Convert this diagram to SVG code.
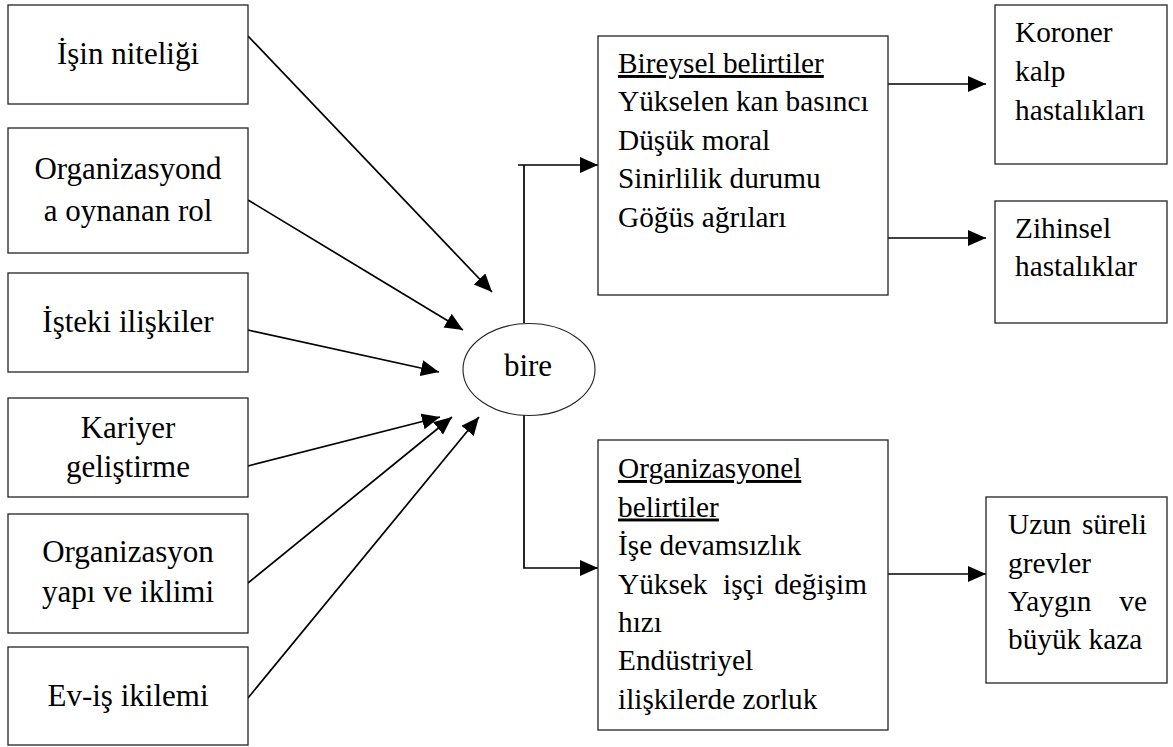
<svg xmlns="http://www.w3.org/2000/svg" width="1173" height="747" viewBox="0 0 1173 747" font-family="Liberation Serif, Times New Roman, serif">
<defs>
<marker id="arr" markerUnits="userSpaceOnUse" markerWidth="19" markerHeight="17" refX="18" refY="8" orient="auto">
<path d="M0,0 L18,8 L0,16 z" fill="#000"/>
</marker>
<style>
.box{fill:#fff;stroke:#222;stroke-width:1.3}
.lt{font-size:31px;fill:#000;text-anchor:middle}
.rt{font-size:29.3px;fill:#000}
.con{fill:none;stroke:#000;stroke-width:1.7}
.u{text-decoration:underline}
</style>
</defs>
<rect width="1173" height="747" fill="#fff"/>

<g id="connectors">
<line class="con" x1="248" y1="36" x2="492" y2="292" marker-end="url(#arr)"/>
<line class="con" x1="248" y1="200" x2="463" y2="330" marker-end="url(#arr)"/>
<line class="con" x1="248" y1="330" x2="439" y2="372" marker-end="url(#arr)"/>
<line class="con" x1="248" y1="466" x2="440" y2="417" marker-end="url(#arr)"/>
<line class="con" x1="248" y1="583" x2="452" y2="417" marker-end="url(#arr)"/>
<line class="con" x1="248" y1="698" x2="479" y2="417" marker-end="url(#arr)"/>
<path class="con" d="M524,323 V165"/>
<path class="con" d="M518,165 H598" marker-end="url(#arr)"/>
<path class="con" d="M524,410 V568 H598" marker-end="url(#arr)"/>
<path class="con" d="M888,84 H986" marker-end="url(#arr)"/>
<path class="con" d="M888,238 H986" marker-end="url(#arr)"/>
<path class="con" d="M888,574 H986" marker-end="url(#arr)"/>
</g>

<g id="n-isin-niteligi">
<rect class="box" x="8" y="5" width="240" height="99"/>
<text class="lt" x="128" y="64" font-family="Liberation Serif, serif">İşin niteliği</text>
</g>
<g id="n-organizasyonda-rol" font-family="Liberation Serif, serif">
<rect class="box" x="8" y="128" width="240" height="125"/>
<text class="lt" x="128" y="179">Organizasyond</text>
<text class="lt" x="128" y="221">a oynanan rol</text>
</g>
<g id="n-isteki-iliskiler" font-family="Liberation Serif, serif">
<rect class="box" x="8" y="273" width="240" height="99"/>
<text class="lt" x="128" y="332">İşteki ilişkiler</text>
</g>
<g id="n-kariyer" font-family="Liberation Serif, serif">
<rect class="box" x="8" y="398" width="240" height="99"/>
<text class="lt" x="128" y="438">Kariyer</text>
<text class="lt" x="128" y="477">geliştirme</text>
</g>
<g id="n-organizasyon-yapi" font-family="Liberation Serif, serif">
<rect class="box" x="8" y="514" width="240" height="119"/>
<text class="lt" x="128" y="562">Organizasyon</text>
<text class="lt" x="128" y="602">yapı ve iklimi</text>
</g>
<g id="n-ev-is" font-family="Liberation Serif, serif">
<rect class="box" x="8" y="647" width="240" height="98"/>
<text class="lt" x="128" y="706">Ev-iş ikilemi</text>
</g>

<g id="n-bire" font-family="Liberation Serif, serif">
<ellipse cx="529" cy="369.5" rx="66" ry="46" fill="#fff" stroke="#222" stroke-width="1.1"/>
<text class="lt" x="528" y="376">bire</text>
</g>

<g id="n-bireysel" font-family="Liberation Serif, serif">
<rect class="box" x="598" y="36" width="290" height="259"/>
<text class="rt u" x="618" y="73">Bireysel belirtiler</text>
<text class="rt" x="618" y="111">Yükselen kan basıncı</text>
<text class="rt" x="618" y="149.5">Düşük moral</text>
<text class="rt" x="618" y="188">Sinirlilik durumu</text>
<text class="rt" x="618" y="226.5">Göğüs ağrıları</text>
</g>

<g id="n-koroner" font-family="Liberation Serif, serif">
<rect class="box" x="995" y="5" width="172" height="159"/>
<text class="rt" x="1015" y="42">Koroner</text>
<text class="rt" x="1015" y="81">kalp</text>
<text class="rt" x="1015" y="119.5">hastalıkları</text>
</g>

<g id="n-zihinsel" font-family="Liberation Serif, serif">
<rect class="box" x="995" y="201" width="172" height="122"/>
<text class="rt" x="1015" y="237.5">Zihinsel</text>
<text class="rt" x="1015" y="276">hastalıklar</text>
</g>

<g id="n-organizasyonel" font-family="Liberation Serif, serif">
<rect class="box" x="598" y="440" width="290" height="290"/>
<text class="rt u" x="618" y="478">Organizasyonel</text>
<text class="rt u" x="618" y="516.5">belirtiler</text>
<text class="rt" x="618" y="555">İşe devamsızlık</text>
<text class="rt" y="593.5"><tspan x="618">Yüksek</tspan><tspan x="723">işçi</tspan><tspan x="867" text-anchor="end">değişim</tspan></text>
<text class="rt" x="618" y="632">hızı</text>
<text class="rt" x="618" y="670">Endüstriyel</text>
<text class="rt" x="618" y="708.5">ilişkilerde zorluk</text>
</g>

<g id="n-uzun" font-family="Liberation Serif, serif">
<rect class="box" x="986" y="497" width="181" height="186"/>
<text class="rt" y="534"><tspan x="1008">Uzun</tspan><tspan x="1147" text-anchor="end">süreli</tspan></text>
<text class="rt" x="1008" y="572.5">grevler</text>
<text class="rt" y="611"><tspan x="1008">Yaygın</tspan><tspan x="1147" text-anchor="end">ve</tspan></text>
<text class="rt" x="1008" y="649">büyük kaza</text>
</g>
</svg>
